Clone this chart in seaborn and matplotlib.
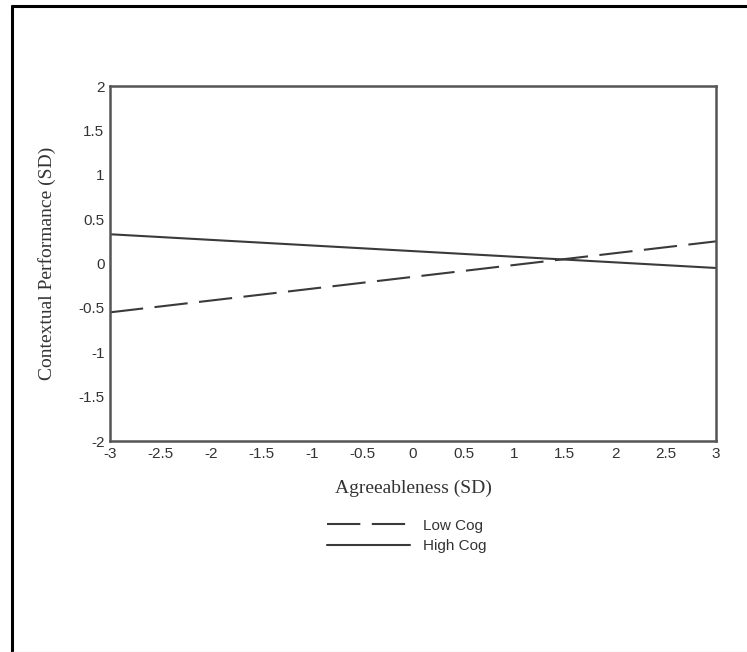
import pandas as pd
import seaborn as sns
import matplotlib.pyplot as plt
from matplotlib.lines import Line2D

# datos
agreeableness = [-3, 3]
low_cog = [-0.55, 0.25]
high_cog = [0.33, -0.05]
x_ticks = [-3, -2.5, -2, -1.5, -1, -0.5, 0, 0.5, 1, 1.5, 2, 2.5, 3]
y_ticks = [-2, -1.5, -1, -0.5, 0, 0.5, 1, 1.5, 2]

df = pd.DataFrame({
    'Agreeableness': agreeableness * 2,
    'Performance': low_cog + high_cog,
    'Group': ['Low Cog'] * 2 + ['High Cog'] * 2,
})

sns.set_style('white')
plt.rcParams['font.family'] = ['Liberation Sans', 'DejaVu Sans']

fig = plt.figure(figsize=(7.47, 6.52), dpi=100)
ax = fig.add_axes([0.1473, 0.3236, 0.8112, 0.5444])

sns.lineplot(data=df, x='Agreeableness', y='Performance', style='Group',
             dashes={'Low Cog': (16, 5.5), 'High Cog': ''},
             color='#3a3a3a', linewidth=1.5, ax=ax, legend=True)

ax.set_xlim(-3, 3)
ax.set_ylim(-2, 2)
ax.set_xticks(x_ticks)
ax.set_yticks(y_ticks)
ax.set_xticklabels(['%g' % t for t in x_ticks], fontsize=11, color='#333333')
ax.set_yticklabels(['%g' % t for t in y_ticks], fontsize=11, color='#333333')
ax.tick_params(direction='out', length=2, width=1.2, color='#444444', pad=2)
for s in ax.spines.values():
    s.set_color('#555555')
    s.set_linewidth(1.8)

ax.set_xlabel('Agreeableness (SD)', family='Liberation Serif', fontsize=14,
              color='#333333', labelpad=14)
ax.set_ylabel('Contextual Performance (SD)', family='Liberation Serif', fontsize=14,
              color='#333333', labelpad=16)

handles, labels = ax.get_legend_handles_labels()
ax.get_legend().remove()
fig.legend(handles, labels, loc='center', bbox_to_anchor=(0.545, 0.178),
           frameon=False, fontsize=11, handlelength=5.4, handletextpad=0.9,
           labelspacing=0.45, labelcolor='#333333')

# marco de la imagen (solo arriba e izquierda)
fig.add_artist(Line2D([12 / 747, 12 / 747], [0, 1 - 6 / 652], transform=fig.transFigure,
                      color='black', linewidth=2.2))
fig.add_artist(Line2D([12 / 747, 1], [1 - 6 / 652, 1 - 6 / 652], transform=fig.transFigure,
                      color='black', linewidth=2.2))
fig.add_artist(Line2D([12 / 747, 1], [0.5 / 652, 0.5 / 652], transform=fig.transFigure,
                      color='#e6e6e6', linewidth=1))

plt.savefig('out.png', dpi=100)
